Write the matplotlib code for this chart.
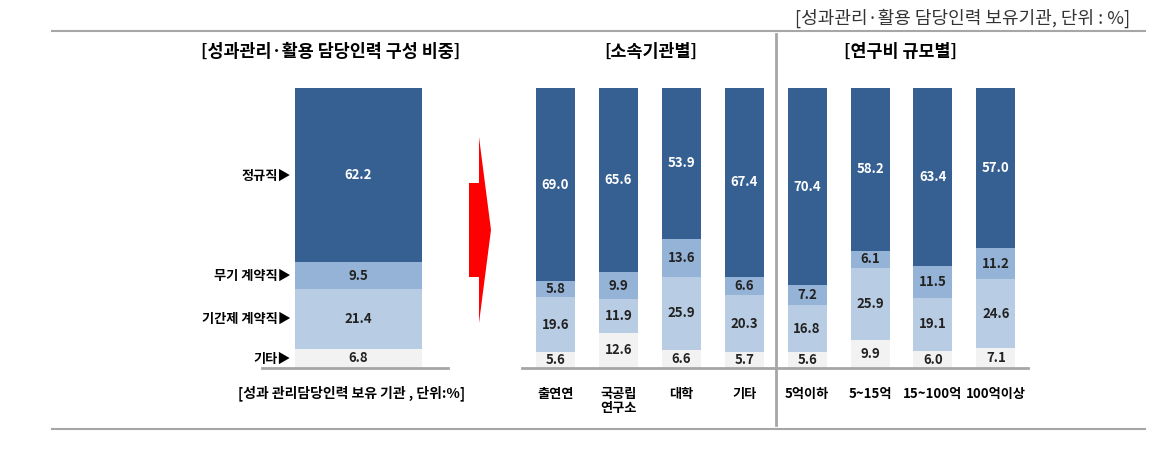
import numpy as np
import matplotlib
matplotlib.use('Agg')
import matplotlib.pyplot as plt
from matplotlib.patches import Polygon
from matplotlib.lines import Line2D

plt.rcParams['font.family'] = ['Noto Sans CJK KR', 'DejaVu Sans']

# segment names, bottom to top
segments = ['기타', '기간제 계약직', '무기 계약직', '정규직']
colors = ['#F2F2F2', '#B8CCE4', '#95B3D7', '#366092']
text_colors = ['#222222', '#222222', '#222222', 'white']

# left panel: overall composition
total_values = [6.8, 21.4, 9.5, 62.2]

# right panel: by institution type and by R&D budget size
categories = ['출연연', '국공립\n연구소', '대학', '기타',
              '5억이하', '5~15억', '15~100억', '100억이상']
etc_values = [5.6, 12.6, 6.6, 5.7, 5.6, 9.9, 6.0, 7.1]
temp_values = [19.6, 11.9, 25.9, 20.3, 16.8, 25.9, 19.1, 24.6]
indef_values = [5.8, 9.9, 13.6, 6.6, 7.2, 6.1, 11.5, 11.2]
regular_values = [69.0, 65.6, 53.9, 67.4, 70.4, 58.2, 63.4, 57.0]

W, H = 1176, 476


def px_rect(x0, y0, x1, y1):
    """
    Convert pixel box (top-left origin) to figure fraction rect
    """
    return [x0 / W, 1 - y1 / H, (x1 - x0) / W, (y1 - y0) / H]


def fx(x):
    return x / W


def fy(y):
    return 1 - y / H


def stacked(ax, x, series, width, fontsize):
    """
    Draw stacked bars with value labels in the middle of each segment
    """
    bottom = np.zeros(len(x))
    for vals, c, tc in zip(series, colors, text_colors):
        vals = np.array(vals, dtype=float)
        ax.bar(x, vals, width, bottom=bottom, color=c, edgecolor='none')
        for xi, b, v in zip(x, bottom, vals):
            ax.text(xi, b + v / 2, format(v, '.1f'), ha='center', va='center',
                    color=tc, fontsize=fontsize, fontweight='bold')
        bottom = bottom + vals
    ax.set_ylim(0, 100)
    for s in ['top', 'right', 'left']:
        ax.spines[s].set_visible(False)
    ax.spines['bottom'].set_color('#A6A6A6')
    ax.spines['bottom'].set_linewidth(2)
    ax.set_yticks([])
    ax.tick_params(axis='x', length=0)


fig = plt.figure(figsize=(W / 100, H / 100), dpi=100)

# frame lines and header
for y in [31, 429]:
    fig.add_artist(Line2D([fx(52), fx(1145)], [fy(y), fy(y)], color='#A6A6A6', lw=1.5))
fig.add_artist(Line2D([fx(776), fx(776)], [fy(34), fy(425)], color='#A6A6A6', lw=2))
fig.text(fx(1130), fy(18), '[성과관리·활용 담당인력 보유기관, 단위 : %]', ha='right', va='center',
         fontsize=13, color='#333333')

# left panel
ax1 = fig.add_axes(px_rect(262, 88, 448, 368))
stacked(ax1, [0.519], [[v] for v in total_values], 0.683, 9.5)
ax1.set_xlim(0, 1)
ax1.set_xticks([])
bottom = 0
for name, v in zip(segments, total_values):
    ax1.text(0.156, bottom + v / 2, name + '▶', ha='right', va='center',
             fontsize=9.5, fontweight='bold', transform=ax1.get_yaxis_transform(),
             family=['Noto Sans CJK KR', 'DejaVu Sans'])
    bottom += v
fig.text(fx(331), fy(52), '[성과관리·활용 담당인력 구성 비중]', ha='center', va='center',
         fontsize=12.5, fontweight='bold')
fig.text(fx(352), fy(393), '[성과 관리담당인력 보유 기관 , 단위:%]', ha='center', va='center',
         fontsize=10, fontweight='bold')

# red arrow
arrow = [(469, 183), (479, 183), (479, 137), (491, 230), (479, 323), (479, 277), (469, 277)]
fig.add_artist(Polygon([(fx(a), fy(b)) for a, b in arrow], closed=True,
                       facecolor='#FF0000', edgecolor='none'))

# right panel
ax2 = fig.add_axes(px_rect(522, 88, 1028, 368))
x = np.arange(len(categories))
stacked(ax2, x, [etc_values, temp_values, indef_values, regular_values], 0.62, 9.5)
ax2.set_xlim(-0.53, 7.51)
ax2.set_xticks(x)
ax2.set_xticklabels(categories, fontsize=9.5, fontweight='bold', linespacing=1.0)
ax2.tick_params(axis='x', pad=14)
fig.text(fx(651), fy(52), '[소속기관별]', ha='center', va='center', fontsize=12.5, fontweight='bold')
fig.text(fx(901), fy(52), '[연구비 규모별]', ha='center', va='center', fontsize=12.5, fontweight='bold')

fig.savefig('out.png', dpi=100)
